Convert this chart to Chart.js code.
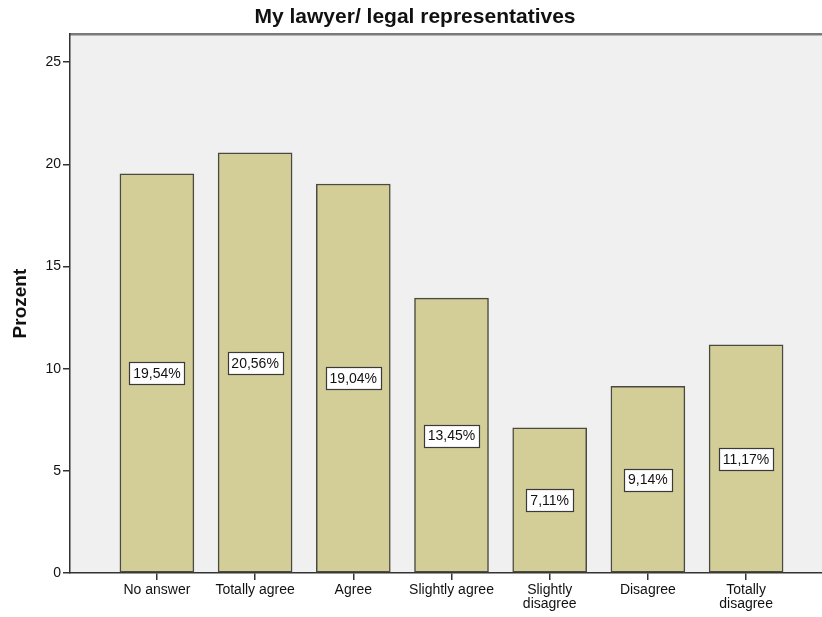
<!DOCTYPE html>
<html>
<head>
<meta charset="utf-8">
<script src="https://cdn.jsdelivr.net/npm/chart.js@4"></script>
<style>
  html, body { margin: 0; padding: 0; background: #fff; }
  #wrap { width: 822px; height: 617px; }
</style>
</head>
<body>
<div id="wrap"><canvas id="lawyerChart"></canvas></div>
<script>
const categories = [
  ["No answer"],
  ["Totally agree"],
  ["Agree"],
  ["Slightly agree"],
  ["Slightly", "disagree"],
  ["Disagree"],
  ["Totally", "disagree"],
];
const percents = [19.54, 20.56, 19.04, 13.45, 7.11, 9.14, 11.17];
const yTicks = [0, 5, 10, 15, 20, 25];

const FONT = "Arial, 'Liberation Sans', sans-serif";

// grey plot background with the darker frame line on top
const plotFrame = {
  id: "plotFrame",
  beforeDraw(chart) {
    const { ctx, chartArea: a } = chart;
    ctx.save();
    ctx.fillStyle = "#f0f0f0";
    ctx.fillRect(a.left, a.top, a.right - a.left, a.bottom - a.top);
    ctx.strokeStyle = "#7a7a7a";
    ctx.lineWidth = 2.5;
    ctx.beginPath();
    ctx.moveTo(a.left, a.top);
    ctx.lineTo(a.right, a.top);
    ctx.stroke();
    ctx.restore();
  },
};

// boxed percentage label in the middle of every bar
const valueBoxes = {
  id: "valueBoxes",
  afterDatasetsDraw(chart) {
    const { ctx } = chart;
    const yScale = chart.scales.y;
    const meta = chart.getDatasetMeta(0);
    ctx.save();
    ctx.font = "14px " + FONT;
    ctx.textAlign = "center";
    ctx.textBaseline = "middle";
    meta.data.forEach((bar, i) => {
      const v = percents[i];
      const text = v.toFixed(2).replace(".", ",") + "%";
      const cy = yScale.getPixelForValue(v / 2);
      const w = Math.round(ctx.measureText(text).width + 8);
      const h = 22;
      const x0 = Math.round(bar.x - w / 2) + 0.5;
      const y0 = Math.round(cy - h / 2) + 0.5;
      ctx.fillStyle = "#ffffff";
      ctx.fillRect(x0, y0, w, h);
      ctx.strokeStyle = "#3a3a3a";
      ctx.lineWidth = 1.2;
      ctx.strokeRect(x0, y0, w, h);
      ctx.fillStyle = "#111";
      ctx.fillText(text, bar.x, cy + 1);
    });
    ctx.restore();
  },
};

new Chart(document.getElementById("lawyerChart"), {
  type: "bar",
  data: {
    datasets: [
      {
        data: percents.map((p, i) => ({ x: i, y: p })),
        backgroundColor: "#d3ce98",
        borderColor: "#4a4a40",
        borderWidth: 1.5,
        borderSkipped: false,
        barThickness: 74,
      },
    ],
  },
  options: {
    responsive: true,
    maintainAspectRatio: false,
    animation: false,
    layout: { padding: { left: 8, right: 0, top: 0, bottom: 0 } },
    scales: {
      x: {
        type: "linear",
        min: -0.885,
        max: 6.773,
        offset: false,
        grid: {
          offset: false,
          drawOnChartArea: false,
          drawTicks: true,
          tickLength: 7,
          color: "#333",
          lineWidth: 1.5,
        },
        border: { display: true, color: "#333", width: 1.5 },
        ticks: {
          stepSize: 1,
          includeBounds: false,
          autoSkip: false,
          maxRotation: 0,
          padding: 3,
          color: "#111",
          font: { family: FONT, size: 14, lineHeight: 1.0 },
          callback: (v) => (Number.isInteger(v) && categories[v] ? categories[v] : ""),
        },
        afterFit(scale) {
          scale.height = 44;
        },
      },
      y: {
        min: 0,
        max: 26.37,
        grid: {
          drawOnChartArea: false,
          drawTicks: true,
          tickLength: 7,
          color: "#333",
          lineWidth: 1.5,
        },
        border: { display: true, color: "#333", width: 1.5 },
        afterBuildTicks(scale) {
          scale.ticks = yTicks.map((v) => ({ value: v }));
        },
        ticks: {
          padding: 2,
          color: "#111",
          font: { family: FONT, size: 14 },
        },
        title: {
          display: true,
          text: "Prozent",
          color: "#111",
          padding: { top: 3, bottom: 0 },
          font: { family: FONT, size: 19, weight: "bold", lineHeight: 1.0 },
        },
        afterFit(scale) {
          scale.width = 62;
        },
      },
    },
    plugins: {
      legend: { display: false },
      tooltip: { enabled: false },
      title: {
        display: true,
        text: "My lawyer/ legal representatives",
        color: "#111",
        padding: { top: 5, bottom: 4 },
        font: { family: FONT, size: 21, weight: "bold", lineHeight: 1.2 },
      },
    },
  },
  plugins: [plotFrame, valueBoxes],
});
</script>
</body>
</html>
